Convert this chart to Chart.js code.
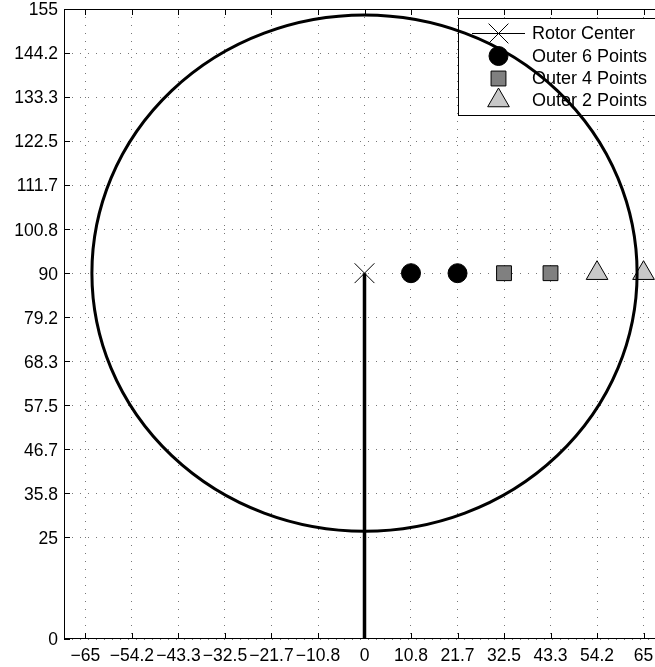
<!DOCTYPE html>
<html>
<head>
<meta charset="utf-8">
<script src="https://cdn.jsdelivr.net/npm/chart.js@4/dist/chart.umd.min.js"></script>
<style>
  html, body { margin: 0; padding: 0; background: #fff; }
  #wrap { width: 655px; height: 667px; overflow: hidden; position: relative; }
  canvas { display: block; }
</style>
</head>
<body>
<div id="wrap"><canvas id="c" width="690" height="667"></canvas></div>
<script>
// Axis ticks (rotor radius split in sixths)
const xTickValues = [-65, -54.17, -43.33, -32.5, -21.67, -10.83, 0, 10.83, 21.67, 32.5, 43.33, 54.17, 65];
const xTickLabels = ['\u221265', '\u221254.2', '\u221243.3', '\u221232.5', '\u221221.7', '\u221210.8', '0', '10.8', '21.7', '32.5', '43.3', '54.2', '65'];
const yTickValues = [0, 25, 35.83, 46.67, 57.5, 68.33, 79.17, 90, 100.83, 111.67, 122.5, 133.33, 144.17, 155];
const yTickLabels = ['0', '25', '35.8', '46.7', '57.5', '68.3', '79.2', '90', '100.8', '111.7', '122.5', '133.3', '144.2', '155'];

// Rotor geometry and measurement points
const shaftLine = [{ x: 0, y: 0 }, { x: 0, y: 90 }];
const rotorCenter = [{ x: 0, y: 90 }];
const rotorRadius = [63.5];
const outer6Points = [{ x: 10.83, y: 90 }, { x: 21.67, y: 90 }];
const outer4Points = [{ x: 32.5, y: 90 }, { x: 43.33, y: 90 }];
const outer2Points = [{ x: 54.17, y: 90 }, { x: 65, y: 90 }];
const seriesNames = ['Rotor Center', 'Outer 6 Points', 'Outer 4 Points', 'Outer 2 Points'];

const FONT = '"Liberation Sans", Arial, Helvetica, sans-serif';

const styles = {
  center: { pointStyle: 'crossRot', radius: 14, bg: '#000', border: '#000', bw: 1 },
  o6: { pointStyle: 'circle', radius: 9.5, bg: '#000', border: '#000', bw: 1 },
  o4: { pointStyle: 'rect', radius: 10.5, bg: '#808080', border: '#000', bw: 1 },
  o2: { pointStyle: 'triangle', radius: 12.5, bg: '#c8c8c8', border: '#000', bw: 1 }
};

function fixedBox(size, isX) {
  return function (scale) {
    if (isX) scale.height = size; else scale.width = size;
    scale.paddingTop = 0; scale.paddingBottom = 0;
    scale.paddingLeft = 0; scale.paddingRight = 0;
  };
}

// Frame with inward tick marks, plus the legend panel
const framePlugin = {
  id: 'frame',
  beforeDatasetsDraw(chart) {
    const { ctx, chartArea: a, scales } = chart;
    ctx.save();
    ctx.strokeStyle = '#000';
    ctx.lineWidth = 1;
    ctx.strokeRect(a.left + 0.5, a.top + 0.5, a.right - a.left - 1, a.bottom - a.top - 1);
    const tl = 6;
    ctx.beginPath();
    xTickValues.forEach(v => {
      const px = Math.round(scales.x.getPixelForValue(v)) + 0.5;
      ctx.moveTo(px, a.bottom); ctx.lineTo(px, a.bottom - tl);
      ctx.moveTo(px, a.top); ctx.lineTo(px, a.top + tl);
    });
    yTickValues.forEach(v => {
      const py = Math.round(scales.y.getPixelForValue(v)) + 0.5;
      ctx.moveTo(a.left, py); ctx.lineTo(a.left + tl, py);
      ctx.moveTo(a.right, py); ctx.lineTo(a.right - tl, py);
    });
    ctx.stroke();

    // legend panel
    const bx = 458.5, by = 18.5, bw = 200, bh = 97;
    ctx.fillStyle = '#fff';
    ctx.fillRect(bx, by, bw, bh);
    ctx.strokeRect(bx, by, bw, bh);
    const rows = [33.5, 56, 78.5, 100.5];
    const keys = ['center', 'o6', 'o4', 'o2'];
    const mx = 498.5, tx = 532;
    ctx.beginPath();
    ctx.moveTo(472, rows[0]); ctx.lineTo(525, rows[0]);
    ctx.stroke();
    keys.forEach((k, i) => {
      const s = styles[k];
      ctx.fillStyle = s.bg; ctx.strokeStyle = s.border; ctx.lineWidth = s.bw;
      Chart.helpers.drawPoint(ctx, { pointStyle: s.pointStyle, radius: s.radius, rotation: 0, borderWidth: s.bw }, mx, rows[i]);
      ctx.fillStyle = '#000';
      ctx.font = '18px ' + FONT;
      ctx.textBaseline = 'middle';
      ctx.textAlign = 'left';
      ctx.fillText(seriesNames[i], tx, rows[i] + 1);
    });
    ctx.restore();
  },
  afterDatasetsDraw(chart) {
    // rotor outline
    const { ctx, chartArea: a, scales } = chart;
    const c = rotorCenter[0];
    const cx = scales.x.getPixelForValue(c.x);
    const cy = scales.y.getPixelForValue(c.y);
    const rx = Math.abs(scales.x.getPixelForValue(c.x + rotorRadius[0]) - cx);
    const ry = Math.abs(scales.y.getPixelForValue(c.y + rotorRadius[0]) - cy);
    ctx.save();
    ctx.beginPath();
    ctx.rect(a.left, a.top, a.right - a.left, a.bottom - a.top);
    ctx.clip();
    ctx.beginPath();
    ctx.ellipse(cx, cy, rx, ry, 0, 0, Math.PI * 2);
    ctx.strokeStyle = '#000';
    ctx.lineWidth = 3;
    ctx.stroke();
    ctx.restore();
  }
};

function pointSet(label, data, s) {
  return {
    label, data, showLine: false,
    pointStyle: s.pointStyle, pointRadius: s.radius, pointHoverRadius: s.radius,
    backgroundColor: s.bg, borderColor: s.border, pointBorderWidth: s.bw, borderWidth: s.bw
  };
}

new Chart(document.getElementById('c'), {
  type: 'scatter',
  data: {
    datasets: [
      { label: 'shaft', data: shaftLine, showLine: true, borderColor: '#000', borderWidth: 3.5, pointRadius: 0, fill: false },
      pointSet(seriesNames[0], rotorCenter, styles.center),
      pointSet(seriesNames[1], outer6Points, styles.o6),
      pointSet(seriesNames[2], outer4Points, styles.o4),
      pointSet(seriesNames[3], outer2Points, styles.o2)
    ]
  },
  options: {
    responsive: false,
    animation: false,
    devicePixelRatio: 1,
    layout: { autoPadding: false, padding: { top: 9, right: 25, left: 0, bottom: 0 } },
    plugins: { legend: { display: false }, tooltip: { enabled: false } },
    scales: {
      x: {
        type: 'linear', min: -70, max: 70,
        afterBuildTicks: s => { s.ticks = xTickValues.map(v => ({ value: v })); },
        afterFit: fixedBox(28, true),
        ticks: {
          autoSkip: false, maxRotation: 0, minRotation: 0, padding: 7,
          color: '#000', font: { family: FONT, size: 17.5 },
          callback: (v, i) => xTickLabels[i]
        },
        grid: { color: '#777', lineWidth: 1, drawTicks: false },
        border: { display: false, dash: [1, 7] }
      },
      y: {
        type: 'linear', min: 0, max: 155,
        afterBuildTicks: s => { s.ticks = yTickValues.map(v => ({ value: v })); },
        afterFit: fixedBox(64, false),
        ticks: {
          autoSkip: false, padding: 6, labelOffset: 1.5,
          color: '#000', font: { family: FONT, size: 17.5 },
          callback: (v, i) => yTickLabels[i]
        },
        grid: { color: '#777', lineWidth: 1, drawTicks: false },
        border: { display: false, dash: [1, 7] }
      }
    }
  },
  plugins: [framePlugin]
});
</script>
</body>
</html>
